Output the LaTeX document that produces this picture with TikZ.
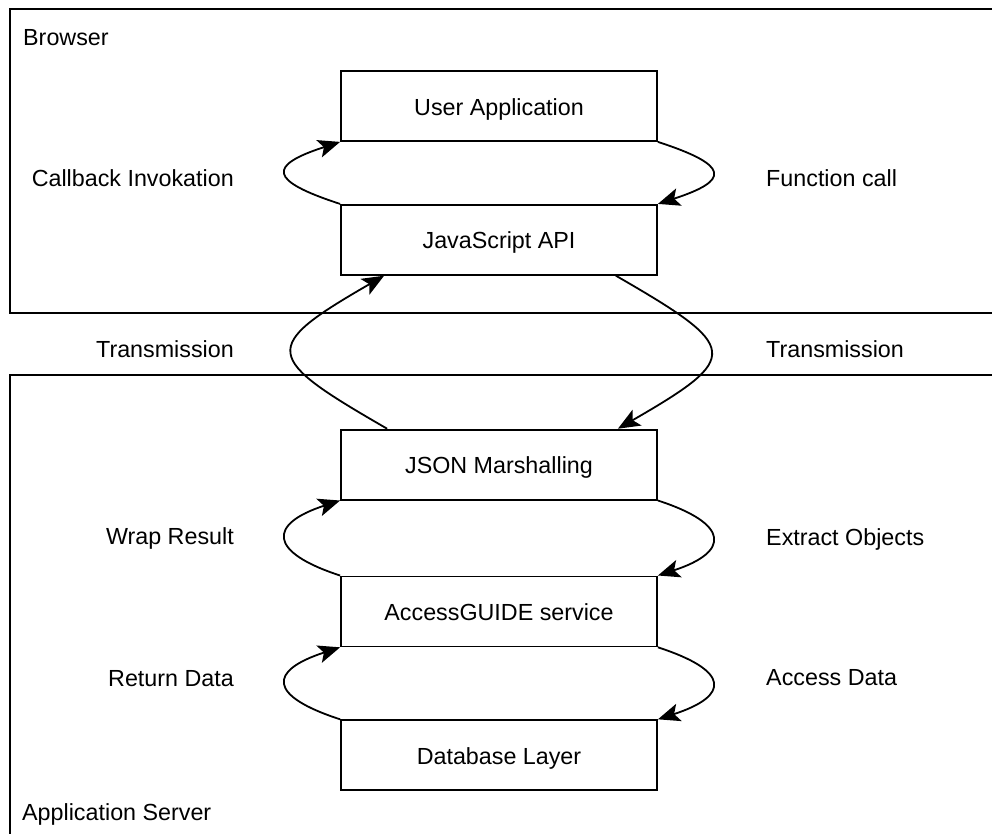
\documentclass[tikz,border=0pt]{standalone}
\usepackage{fontspec}
\setmainfont{Liberation Sans}
\usetikzlibrary{arrows.meta, positioning}

\begin{document}
\begin{tikzpicture}[
    x=1pt, y=-1pt,
    node distance=62pt,
    layer/.style={
      draw,
      line width=1.8pt,
      minimum width=316pt,
      minimum height=70pt,
      inner sep=0pt,
      text height=22pt,
      text depth=4pt,
      font=\fontsize{23.3}{28}\selectfont,
    },
    lbl/.style={font=\fontsize{23.3}{28}\selectfont, inner sep=0pt},
    frame/.style={line width=1.8pt},
    arr/.style={-{Stealth[length=22pt, width=18pt, inset=5pt]}, line width=1.8pt},
    upleft/.style={out=162, in=198, distance=76pt},
    downright/.style={out=-18, in=18, distance=76pt},
  ]
  \useasboundingbox (0,0) rectangle (992,833);

  % browser and server frames, open on the right
  \draw[frame] (1000,9) -- (10,9) -- (10,313) -- (1000,313);
  \draw[frame] (1000,375) -- (10,375) -- (10,840);
  \node[lbl, anchor=base west] (browser) at (23,45) {Browser};
  \node[lbl, anchor=base west] (server) at (22,820) {Application Server};

  \node[layer] (app) at (499,106) {User Application};
  \node[layer, below=of app] (jsapi) {JavaScript API};
  \node[layer, below=153pt of jsapi] (json) {JSON Marshalling};
  \node[layer, below=75pt of json] (guide) {AccessGUIDE service};
  \node[layer, below=72pt of guide] (db) {Database Layer};

  \draw[arr] (jsapi.north west) to[upleft] (app.south west);
  \draw[arr] (app.south east) to[downright] (jsapi.north east);
  \draw[arr] ([xshift=47pt]json.north west) to[out=150, in=210, looseness=2.4] ([xshift=44pt]jsapi.south west);
  \draw[arr] ([xshift=-42pt]jsapi.south east) to[out=-30, in=30, looseness=2.4] ([xshift=-40pt]json.north east);
  \draw[arr] (guide.north west) to[upleft] (json.south west);
  \draw[arr] (json.south east) to[downright] (guide.north east);
  \draw[arr] (db.north west) to[upleft] (guide.south west);
  \draw[arr] (guide.south east) to[downright] (db.north east);

  \node[lbl, anchor=base east] (callback) at (234,186) {Callback Invokation};
  \node[lbl, anchor=base west] (fcall) at (766,186) {Function call};
  \node[lbl, anchor=base east] (transl) at (234,357) {Transmission};
  \node[lbl, anchor=base west] (transr) at (766,357) {Transmission};
  \node[lbl, anchor=base east] (wrap) at (234,544) {Wrap Result};
  \node[lbl, anchor=base west] (extract) at (766,545) {Extract Objects};
  \node[lbl, anchor=base east] (ret) at (234,686) {Return Data};
  \node[lbl, anchor=base west] (access) at (766,685) {Access Data};
\end{tikzpicture}
\end{document}
